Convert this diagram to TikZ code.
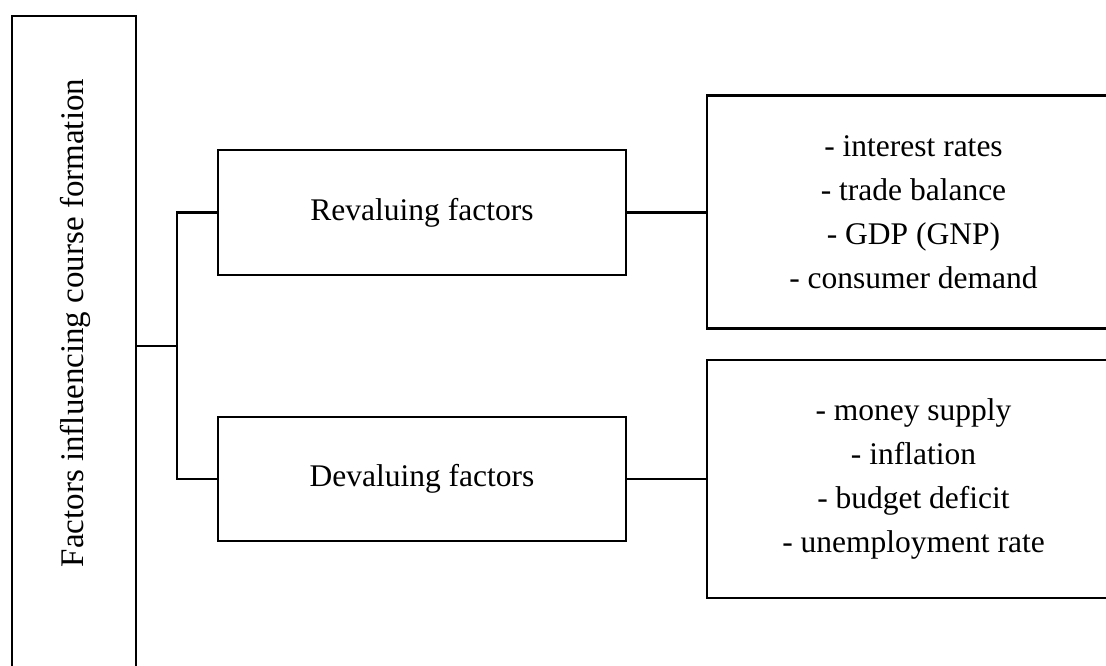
\documentclass[tikz,border=0pt]{standalone}
\usepackage{fontspec}
\setmainfont{Liberation Serif}
\begin{document}
\begin{tikzpicture}[x=1pt,y=-1pt,
  box/.style={draw=black, line width=2.4pt, fill=none, inner sep=0pt},
  conn/.style={draw=black, line width=2.4pt},
  lbl/.style={inner sep=0pt, align=center, font=\fontsize{31.5}{44}\selectfont},
  vlbl/.style={inner sep=0pt, rotate=90, font=\fontsize{33}{40}\selectfont}]
\useasboundingbox (0,0) rectangle (1106,666);
\clip (0,0) rectangle (1106,666);
\node[box, minimum width=124pt, minimum height=684pt] (L) at (74,358) {};
\node[vlbl] (Lt) at (75,323) {Factors influencing course formation};
\node[box, minimum width=408pt, minimum height=125pt] (Rev) at (422,212.5) {};
\node[lbl] (Revt) at (Rev) {Revaluing factors};
\node[box, minimum width=408pt, minimum height=124pt] (Dev) at (422,479) {};
\node[lbl] (Devt) at (Dev) {Devaluing factors};
\node[box, minimum width=413pt, minimum height=233pt] (R1) at (913.5,212) {};
\node[lbl] (R1t) at (R1) {- interest rates\\- trade balance\\- GDP (GNP)\\- consumer demand};
\node[box, minimum width=413pt, minimum height=238pt] (R2) at (913.5,479) {};
\node[lbl] (R2t) at (R2) {- money supply\\- inflation\\- budget deficit\\- unemployment rate};
\coordinate (j) at (177,346);
\draw[conn] (Rev.west) -| (j) |- (Dev.west);
\draw[conn] (L.east |- j) -- (j);
\draw[conn] (Rev.east) -- (R1.west |- Rev.east);
\draw[conn] (Dev.east) -- (R2.west |- Dev.east);
\end{tikzpicture}
\end{document}
